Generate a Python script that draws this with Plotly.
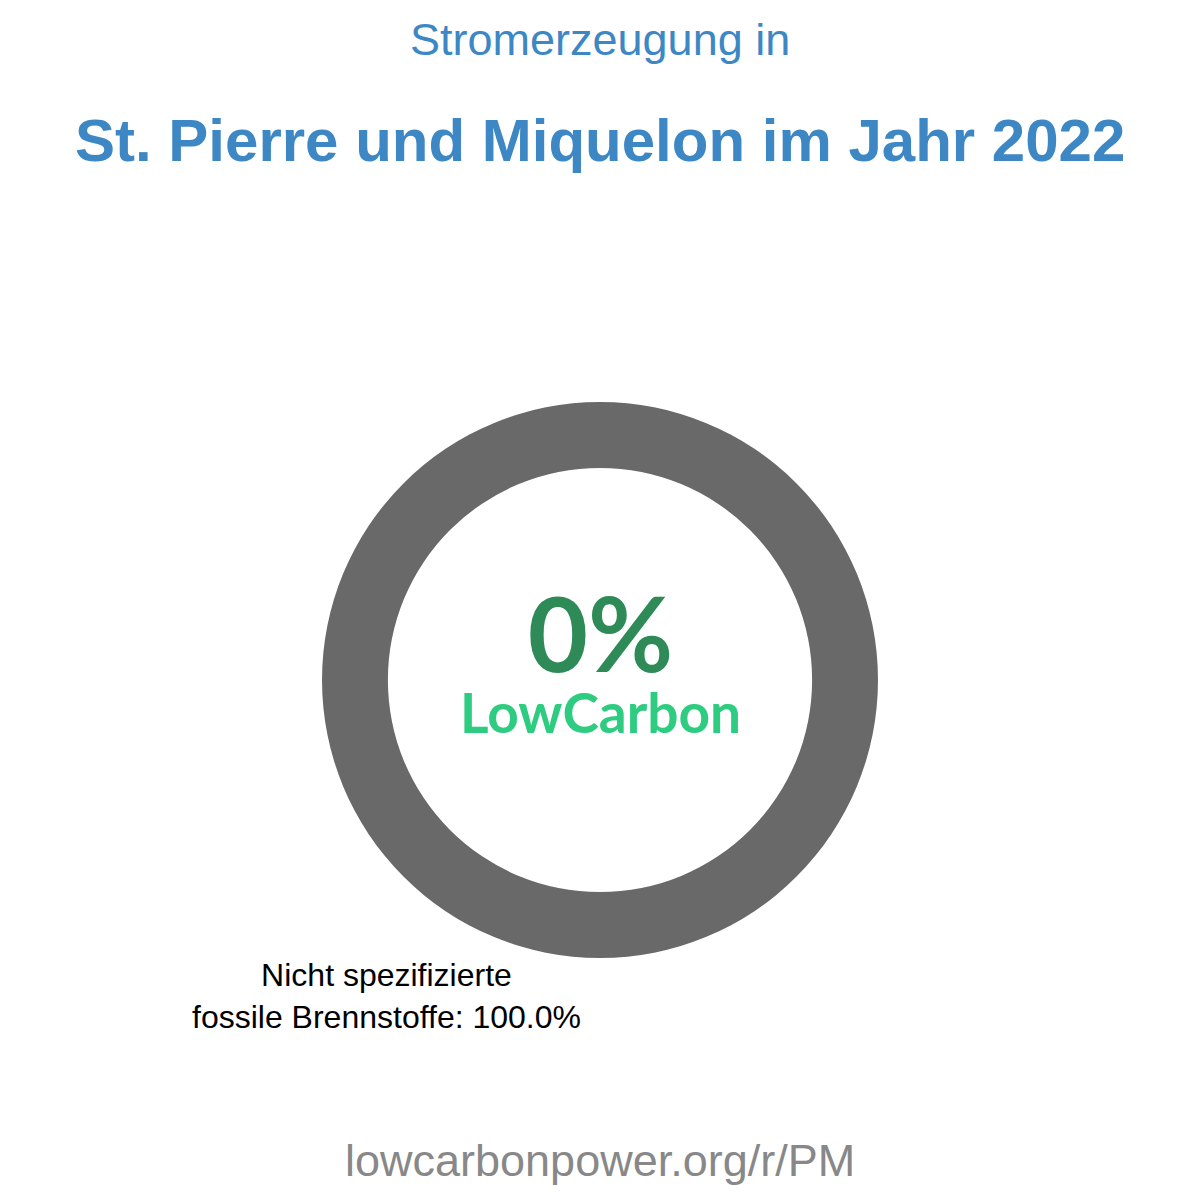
import plotly.graph_objects as go

# Data
labels = ["Nicht spezifizierte fossile Brennstoffe"]
label_lines = ["Nicht spezifizierte", "fossile Brennstoffe"]
values = [100.0]
colors = ["#696969"]
lowcarbon_pct = 0
subtitle = "Stromerzeugung in"
title = "St. Pierre und Miquelon im Jahr 2022"
footer = "lowcarbonpower.org/r/PM"

W, H = 1200, 1200

def py(px):
    return 1 - px / H

fig = go.Figure()
fig.add_trace(go.Pie(
    labels=labels,
    values=values,
    marker=dict(colors=colors, line=dict(width=0)),
    hole=0.763,
    textinfo="none",
    sort=False,
    direction="clockwise",
    showlegend=False,
    domain=dict(x=[0, 1], y=[py(958), py(402)]),
))

share = values[0] / sum(values) * 100
center_text = (
    "<span style='font-size:104px;color:#2e8b57'><b>%d%%</b></span><br>" % lowcarbon_pct
    + "<span style='font-size:55px;color:#2ecc80'><b>LowCarbon</b></span>"
)
ann = [
    dict(text=subtitle, x=0.5, y=py(40), font=dict(size=45, color="#3d87c4", family="Liberation Sans")),
    dict(text="<b>" + title + "</b>", x=0.5, y=py(140), font=dict(size=60, color="#3d87c4", family="Liberation Sans")),
    dict(text=center_text, x=0.5, y=py(657), font=dict(size=47, color="#2e8b57", family="Lato")),
    dict(text=label_lines[0] + "<br>" + label_lines[1] + ": %.1f%%" % share, x=386 / W, y=py(996),
         font=dict(size=32, color="#000000", family="Liberation Sans")),
    dict(text=footer, x=0.5, y=py(1160), font=dict(size=45, color="#888888", family="Liberation Sans")),
]
for a in ann:
    a.update(xref="paper", yref="paper", showarrow=False, xanchor="center", yanchor="middle")

fig.update_layout(
    width=W, height=H,
    margin=dict(l=0, r=0, t=0, b=0),
    paper_bgcolor="white",
    plot_bgcolor="white",
    annotations=ann,
)
fig.write_html("out.html")
